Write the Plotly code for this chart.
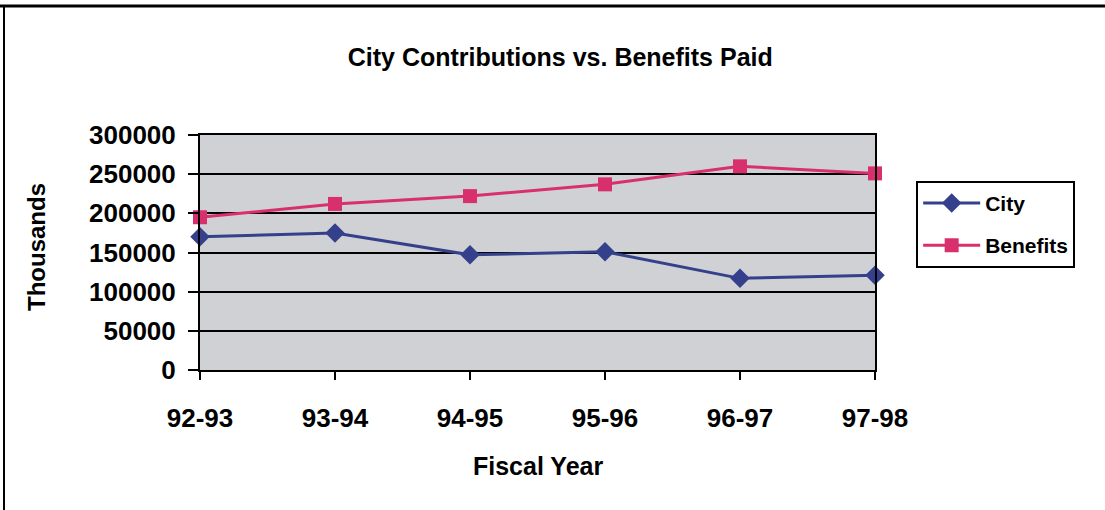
import plotly.graph_objects as go

years = ["92-93", "93-94", "94-95", "95-96", "96-97", "97-98"]
city = [170000, 175000, 147000, 151000, 117000, 121000]
benefits = [195000, 212000, 222000, 237000, 260000, 251000]
y_ticks = [0, 50000, 100000, 150000, 200000, 250000, 300000]

FONT = "Liberation Sans, Arial, sans-serif"
BLUE = "#34408c"
PINK = "#d8306c"

fig = go.Figure()
fig.add_trace(go.Scatter(
    x=years, y=city, name="City", mode="lines+markers",
    line=dict(color=BLUE, width=3),
    marker=dict(symbol="diamond", size=15, color=BLUE),
    legendgroup="a", cliponaxis=False,
))
fig.add_trace(go.Scatter(
    x=years, y=benefits, name="Benefits", mode="lines+markers",
    line=dict(color=PINK, width=3),
    marker=dict(symbol="square", size=14, color=PINK),
    legendgroup="b", cliponaxis=False,
))

fig.update_layout(
    width=1105, height=510,
    margin=dict(l=200, r=230, t=135, b=140),
    paper_bgcolor="white",
    plot_bgcolor="#cfd1d4",
    font=dict(family=FONT, color="black"),
    title=dict(
        text="<b>City Contributions vs. Benefits Paid</b>",
        font=dict(size=25, family=FONT, color="black"),
        x=0.507, xanchor="center", xref="container",
        y=1 - 57 / 510, yref="container", yanchor="middle",
    ),
    showlegend=True,
    legend=dict(
        x=1.061, y=0.805, xanchor="left", yanchor="top",
        bordercolor="black", borderwidth=2, bgcolor="white",
        font=dict(size=21, family=FONT, color="black", weight="bold"),
        tracegroupgap=12, traceorder="grouped",
        itemwidth=57,
    ),
    xaxis=dict(
        type="category", range=[0, 5],
        showgrid=False,
        showline=True, linecolor="black", linewidth=2, mirror=True,
        ticks="outside", ticklen=8, tickwidth=2, tickcolor="black",
        tickfont=dict(size=26, family=FONT, color="black", weight="bold"),
        ticklabelstandoff=16,
    ),
    yaxis=dict(
        range=[0, 300000],
        tickvals=y_ticks, ticktext=[str(v) for v in y_ticks],
        showgrid=True, gridcolor="black", gridwidth=2,
        zeroline=False,
        showline=True, linecolor="black", linewidth=2, mirror=True,
        ticks="outside", ticklen=10, tickwidth=2, tickcolor="black",
        tickfont=dict(size=26, family=FONT, color="black", weight="bold"),
        ticklabelstandoff=7,
    ),
    annotations=[
        dict(text="<b>Fiscal Year</b>", xref="paper", yref="paper",
             x=0.5, y=(370 - 466) / 235, xanchor="center", yanchor="middle",
             showarrow=False, font=dict(size=25, family=FONT, color="black")),
        dict(text="<b>Thousands</b>", xref="paper", yref="paper",
             x=(36 - 200) / 675, y=(370 - 247) / 235, xanchor="center", yanchor="middle",
             textangle=-90, showarrow=False,
             font=dict(size=24, family=FONT, color="black")),
    ],
    shapes=[
        dict(type="line", xref="paper", yref="paper",
             x0=(0 - 200) / 675, x1=(1105 - 200) / 675,
             y0=(370 - 6) / 235, y1=(370 - 6) / 235,
             line=dict(color="black", width=3)),
        dict(type="line", xref="paper", yref="paper",
             x0=(4 - 200) / 675, x1=(4 - 200) / 675,
             y0=(370 - 6) / 235, y1=(370 - 510) / 235,
             line=dict(color="black", width=2)),
    ],
)

fig.write_html("out.html")
